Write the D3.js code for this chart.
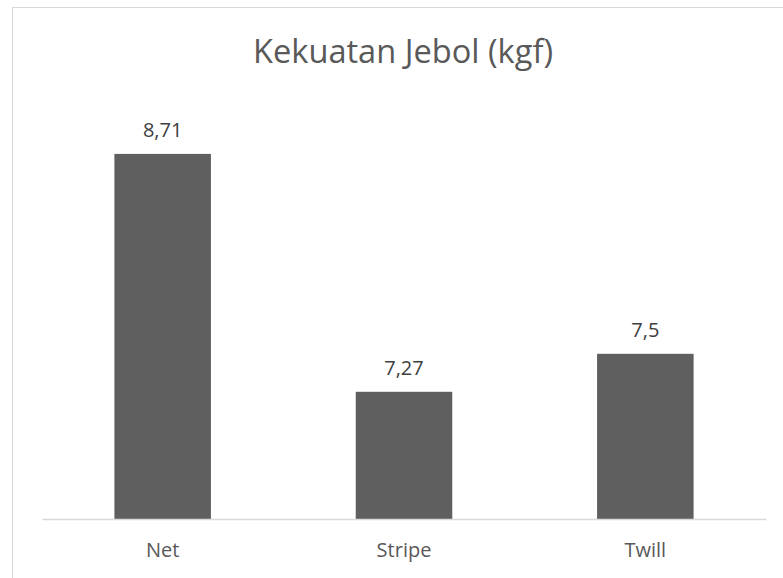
<!DOCTYPE html>
<html>
<head>
<meta charset="utf-8">
<script src="https://cdn.jsdelivr.net/npm/d3@7"></script>
<style>
	body { margin: 0; background: #fff; }
	svg { display: block; }
	text { font-family: "Open Sans", "Noto Sans", sans-serif; }
</style>
</head>
<body>
<script>
// chart data
const categories = ["Net", "Stripe", "Twill"];
const values = [8.71, 7.27, 7.5];
const valueLabels = ["8,71", "7,27", "7,5"];
const yDomain = [6.5, 9];

const width = 783, height = 578;

const svg = d3.select("body").append("svg")
	.attr("width", width)
	.attr("height", height);

// chart border
svg.append("rect")
	.attr("x", 12.5)
	.attr("y", 7.5)
	.attr("width", 780)
	.attr("height", 600)
	.attr("fill", "none")
	.attr("stroke", "#d9d9d9")
	.attr("stroke-width", 1);

var x = d3.scaleBand()
	.domain(categories)
	.range([42, 766])
	.paddingInner(0.6)
	.paddingOuter(0.3);

var y = d3.scaleLinear()
	.domain(yDomain)
	.range([519, 106]);

// title
svg.append("text")
	.attr("x", 403)
	.attr("y", 63)
	.attr("text-anchor", "middle")
	.attr("fill", "#595959")
	.attr("font-size", 32)
	.attr("textLength", 300)
	.attr("lengthAdjust", "spacingAndGlyphs")
	.text("Kekuatan Jebol (kgf)");

// bars
svg.selectAll("rect.bar")
	.data(values)
	.enter().append("rect")
		.attr("class", "bar")
		.attr("x", (d, i) => x(categories[i]))
		.attr("y", d => y(d))
		.attr("width", x.bandwidth())
		.attr("height", d => y(yDomain[0]) - y(d))
		.attr("fill", "#5f5f5f");

// data labels
svg.selectAll("text.label")
	.data(values)
	.enter().append("text")
		.attr("class", "label")
		.attr("x", (d, i) => x(categories[i]) + x.bandwidth() / 2)
		.attr("y", d => y(d) - 17)
		.attr("text-anchor", "middle")
		.attr("fill", "#404040")
		.attr("font-size", 20)
		.text((d, i) => valueLabels[i]);

// category axis
var xAxis = svg.append("g")
	.attr("transform", "translate(0,519)")
	.call(d3.axisBottom(x).tickSize(0).tickPadding(24));

xAxis.select(".domain")
	.attr("stroke", "#d9d9d9")
	.attr("stroke-width", 1.5);

xAxis.selectAll("text")
	.attr("fill", "#595959")
	.attr("font-size", 20)
	.attr("font-family", "Open Sans, Noto Sans, sans-serif");
</script>
</body>
</html>
